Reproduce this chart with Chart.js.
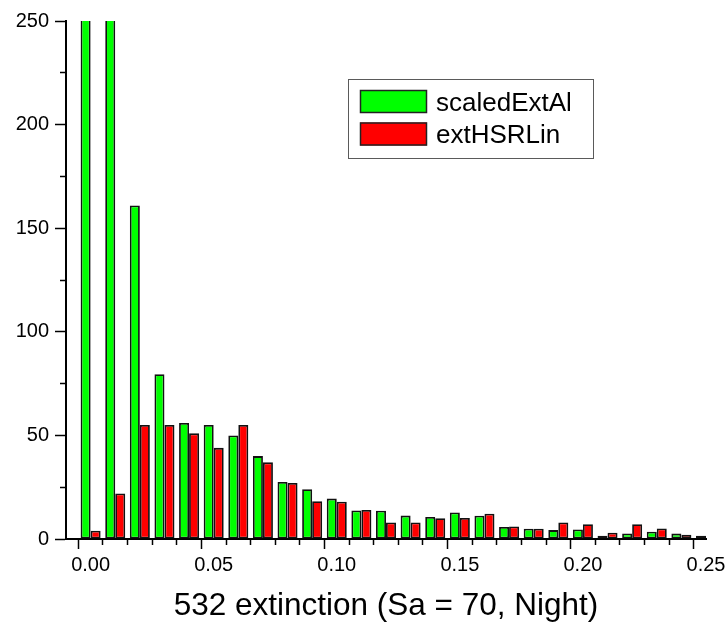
<!DOCTYPE html>
<html>
<head>
<meta charset="utf-8">
<script src="https://cdn.jsdelivr.net/npm/chart.js@4"></script>
<style>
  html, body { margin: 0; padding: 0; background: #fff; }
  #wrap { width: 726px; height: 622px; }
</style>
</head>
<body>
<div id="wrap"><canvas id="c" width="726" height="622"></canvas></div>
<script>
// Histogram bin centres (extinction, 0.01 wide bins)
const bins = [0.00, 0.01, 0.02, 0.03, 0.04, 0.05, 0.06, 0.07, 0.08, 0.09,
              0.10, 0.11, 0.12, 0.13, 0.14, 0.15, 0.16, 0.17, 0.18, 0.19,
              0.20, 0.21, 0.22, 0.23, 0.24, 0.25];

// Counts per bin
const scaledExtAl = [410, 290, 161, 79.5, 56, 55, 50, 40, 27.5, 24,
                     19.5, 13.8, 13.6, 11.3, 10.6, 12.8, 11.2, 5.8, 5.0, 4.3,
                     4.6, 1.6, 2.7, 3.5, 2.6, 1.6];
const extHSRLin   = [4, 22, 55, 55, 51, 44, 55, 37, 27, 18.2,
                     18, 14, 8, 8, 10, 10.1, 12.2, 6, 5, 8,
                     7.1, 3, 7.1, 5.1, 2.1, null];

const seriesNames = ['scaledExtAl', 'extHSRLin'];
const seriesColors = ['#00ff00', '#ff0000'];

// Axis ranges and tick spacing (major ticks are labelled, minor ticks are short)
const xMajorStep = 0.05, xMinorStep = 0.01;
const yMajorStep = 50, yMinorStep = 25;
const xMin = -0.01, xMax = 0.25, yMin = 0, yMax = 250;
const xTitle = '532 extinction (Sa = 70, Night)';

const FONT = '"Liberation Sans", Arial, Helvetica, sans-serif';

function toPoints(vals) {
  return bins.map((b, i) => ({ x: b, y: vals[i] }));
}

function isMajor(v, step) {
  return Math.abs(v / step - Math.round(v / step)) < 1e-6;
}

// dash pattern that shortens minor tick marks
function tickDash(step, minorDash) {
  return c => (c && c.tick && !isMajor(c.tick.value, step)) ? minorDash : [];
}

// fixed axis thickness, no label overhang padding
function fixed(size, horizontal) {
  return function (scale) {
    if (horizontal) scale.height = size; else scale.width = size;
    scale.paddingTop = 0; scale.paddingBottom = 0;
    scale.paddingLeft = 0; scale.paddingRight = 0;
  };
}

// Framed legend drawn inside the plot area
const boxLegend = {
  id: 'boxLegend',
  afterDraw(chart) {
    const ctx = chart.ctx;
    ctx.save();
    ctx.strokeStyle = '#5a5a5a';
    ctx.lineWidth = 1;
    ctx.fillStyle = '#fff';
    ctx.fillRect(348.5, 79.5, 245, 79);
    ctx.strokeRect(348.5, 79.5, 245, 79);
    chart.data.datasets.forEach((ds, i) => {
      const y = 90 + i * 32.5;
      ctx.fillStyle = ds.backgroundColor;
      ctx.fillRect(360, y, 67, 23);
      ctx.strokeStyle = '#222';
      ctx.lineWidth = 1.5;
      ctx.strokeRect(360.5, y + 0.5, 66, 22);
      ctx.fillStyle = '#000';
      ctx.font = '26px ' + FONT;
      ctx.textAlign = 'left';
      ctx.textBaseline = 'alphabetic';
      ctx.fillText(ds.label, 436, y + 20.5);
    });
    ctx.restore();
  }
};

new Chart(document.getElementById('c'), {
  type: 'bar',
  data: {
    datasets: [
      { label: seriesNames[0], data: toPoints(scaledExtAl), backgroundColor: seriesColors[0],
        borderColor: '#111', borderWidth: 1.8, borderSkipped: false },
      { label: seriesNames[1], data: toPoints(extHSRLin), backgroundColor: seriesColors[1],
        borderColor: '#111', borderWidth: 1.8, borderSkipped: false }
    ]
  },
  options: {
    responsive: false,
    animation: false,
    devicePixelRatio: 1,
    layout: { padding: { top: 21, right: 20, bottom: 0, left: 0 } },
    datasets: { bar: { categoryPercentage: 0.813, barPercentage: 1.0, grouped: true } },
    plugins: { legend: { display: false }, tooltip: { enabled: false } },
    scales: {
      x: {
        type: 'linear', position: 'bottom', offset: false,
        min: xMin, max: xMax,
        grid: {
          drawOnChartArea: false, drawTicks: true, tickLength: 10, tickWidth: 1.5, tickColor: '#000',
          tickBorderDash: tickDash(xMajorStep, [5, 100])
        },
        border: { display: true, color: '#000', width: 2 },
        ticks: {
          stepSize: xMinorStep, padding: 4, color: '#000', autoSkip: false, maxRotation: 0,
          font: { family: FONT, size: 20 },
          callback: v => isMajor(v, xMajorStep) ? v.toFixed(2) : ''
        },
        title: { display: true, text: xTitle, color: '#000', padding: 0,
                 font: { family: FONT, size: 31.5, lineHeight: 1 } },
        afterFit: fixed(83, true)
      },
      y: {
        type: 'linear', position: 'left',
        min: yMin, max: yMax,
        grid: {
          drawOnChartArea: false, drawTicks: true, tickLength: 11, tickWidth: 1.5, tickColor: '#000',
          tickBorderDash: tickDash(yMajorStep, [0, 5, 7, 100])
        },
        border: { display: true, color: '#000', width: 2 },
        ticks: {
          stepSize: yMinorStep, padding: 6, color: '#000', autoSkip: false,
          font: { family: FONT, size: 20 },
          callback: v => isMajor(v, yMajorStep) ? String(v) : ''
        },
        afterFit: fixed(66, false)
      }
    }
  },
  plugins: [boxLegend]
});
</script>
</body>
</html>
